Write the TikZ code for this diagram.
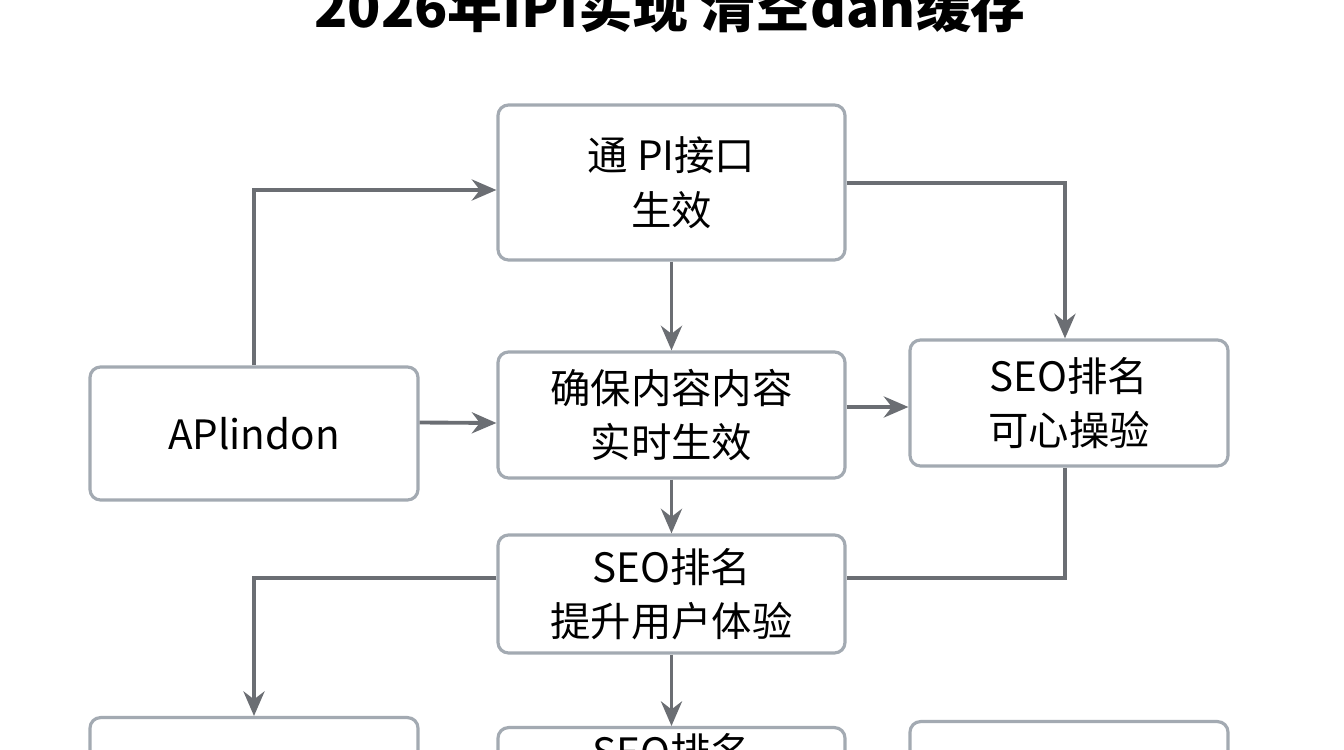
\documentclass[tikz,border=0pt]{standalone}
\usepackage{fontspec}
\usepackage{tikz}
\usetikzlibrary{arrows.meta}
\newfontfamily\cjk{Noto Sans CJK SC}
\definecolor{boxline}{HTML}{A3AAB2}
\definecolor{arrowgray}{HTML}{6B6E73}
\tikzset{
  box/.style={draw=boxline, line width=0.9pt, rounded corners=3pt, fill=white,
    align=center, font=\cjk\fontsize{11.5}{15.5}\selectfont, inner sep=0pt},
  flow/.style={draw=arrowgray, line width=1.1pt, -{Stealth[length=7pt,width=6pt]}},
  link/.style={draw=arrowgray, line width=1.1pt}
}
\begin{document}
\begin{tikzpicture}
	\useasboundingbox (0, 0) rectangle (13.44, 7.5);
	\clip (0, 0) rectangle (13.44, 7.5);

	\node[font=\cjk\bfseries\fontsize{15.6}{19}\selectfont] at (6.70, 7.44) (title) {2026年IPI实现 清空dan缓存};

	\node[box, minimum width=3.47cm, minimum height=1.55cm] at (6.715, 5.675) (api) {通 PI接口\\生效};
	\node[box, minimum width=3.28cm, minimum height=1.33cm] at (2.54, 3.165) (apl) {APlindon};
	\node[box, minimum width=3.47cm, minimum height=1.26cm] at (6.715, 3.35) (ensure) {确保内容内容\\实时生效};
	\node[box, minimum width=3.18cm, minimum height=1.26cm] at (10.69, 3.47) (rank) {SEO排名\\可心操验};
	\node[box, minimum width=3.47cm, minimum height=1.18cm] at (6.715, 1.56) (seo) {SEO排名\\提升用户体验};

	\node[box, minimum width=3.28cm, minimum height=1.2cm, anchor=north] at (2.54, 0.34) (left) {};
	\node[box, minimum width=3.47cm, minimum height=1.2cm, anchor=north, text depth=0.75cm] at (6.715, 0.24) (mid) {SEO排名};
	\node[box, minimum width=3.18cm, minimum height=1.2cm, anchor=north] at (10.69, 0.30) (right) {};

	\coordinate (ensureout) at ([yshift=0.08cm]ensure.east);

	\draw[flow] (apl.north) |- ([yshift=-0.075cm]api.west);
	\draw[flow] ([yshift=-0.005cm]api.east) -| ([xshift=-0.04cm]rank.north);
	\draw[flow] (api) -- (ensure);
	\draw[flow] ([yshift=0.11cm]apl.east) -- ([yshift=-0.08cm]ensure.west);
	\draw[flow] (ensureout) -- (ensureout -| rank.west);
	\draw[flow] (ensure) -- (seo);
	\draw[link] ([xshift=-0.04cm]rank.south) |- ([yshift=0.16cm]seo.east);
	\draw[flow] ([yshift=0.16cm]seo.west) -| (left.north);
	\draw[flow] (seo) -- (mid);
\end{tikzpicture}
\end{document}
